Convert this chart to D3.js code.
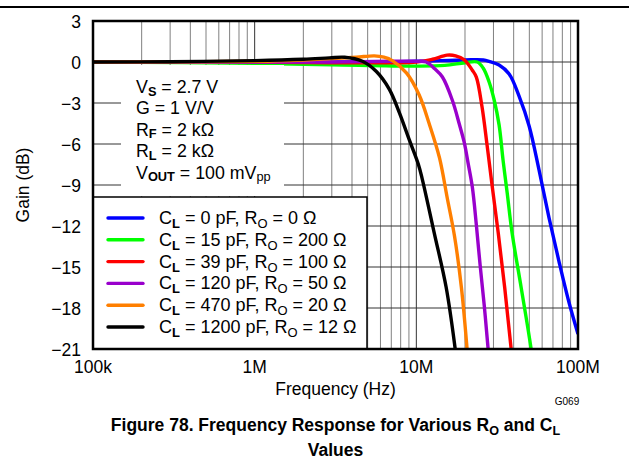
<!DOCTYPE html>
<html>
<head>
<meta charset="utf-8">
<script src="https://cdn.jsdelivr.net/npm/d3@7"></script>
<style>
  body { margin: 0; background: #fff; }
  svg { display: block; font-family: "Liberation Sans", Arial, sans-serif; }
</style>
</head>
<body>
<div id="chart"></div>
<script>
// frequency (Hz) / gain (dB)
const blueF   = [1e5, 1e6, 5e6, 1e7, 2e7, 2.6e7, 2.82e7, 3.25e7, 3.75e7, 4.32e7, 4.99e7, 5.74e7, 6.62e7, 7.63e7, 8.8e7, 1e8];
const blueG   = [0, 0, 0, 0.05, 0.15, 0.15, 0.05, -0.22, -0.88, -2.5, -4.7, -7.9, -11.4, -14.6, -17.6, -19.9];
const greenF  = [1e5, 1e6, 3e6, 1e7, 1.5e7, 2.0e7, 2.38e7, 2.59e7, 2.82e7, 3.03e7, 3.25e7, 3.44e7, 3.65e7, 3.91e7, 4.45e7, 5.13e7, 6e7];
const greenG  = [0, -0.1, -0.2, -0.3, -0.25, -0.05, 0, -0.44, -1.46, -2.78, -4.6, -7.2, -9.6, -12.5, -16.5, -21, -27];
const redF    = [1e5, 1e6, 3e6, 1e7, 1.26e7, 1.55e7, 1.75e7, 1.98e7, 2.22e7, 2.35e7, 2.55e7, 2.74e7, 2.94e7, 3.21e7, 3.52e7, 3.86e7, 4.3e7];
const redG    = [0, 0, -0.05, 0, 0.2, 0.5, 0.45, 0.15, -0.6, -1.1, -3.3, -6.1, -9.0, -12.5, -16.5, -21, -26];
const purpleF = [1e5, 1e6, 3e6, 7e6, 1.0e7, 1.15e7, 1.3e7, 1.45e7, 1.67e7, 1.84e7, 1.98e7, 2.09e7, 2.22e7, 2.35e7, 2.48e7, 2.63e7, 2.78e7, 3.1e7];
const purpleG = [0, 0, 0, 0.05, 0.05, 0, -0.5, -1.1, -2.8, -4.5, -5.9, -7.4, -9.15, -11.9, -14.85, -17.8, -21, -27];
const orangeF = [1e5, 1e6, 2e6, 3e6, 4.26e6, 5.5e6, 6.3e6, 7.1e6, 8.68e6, 1.04e7, 1.2e7, 1.39e7, 1.55e7, 1.72e7, 1.9e7, 2.06e7, 2.25e7];
const orangeG = [0, 0.05, 0.15, 0.25, 0.35, 0.45, 0.35, 0.1, -0.8, -2.4, -4.5, -7.0, -9.9, -12.7, -16.5, -21, -27];
const blackF  = [1e5, 3e5, 1e6, 2e6, 2.9e6, 3.6e6, 4.64e6, 5.66e6, 6.81e6, 7.85e6, 9.05e6, 1.03e7, 1.09e7, 1.29e7, 1.53e7, 1.74e7, 1.95e7];
const blackG  = [0, 0.02, 0.1, 0.2, 0.3, 0.35, 0.05, -0.7, -2.0, -3.7, -5.7, -7.5, -8.6, -12.5, -16.5, -21, -26];

const seriesCL = ['0', '15', '39', '120', '470', '1200'];
const seriesRO = ['0', '200', '100', '50', '20', '12'];
const seriesColors = ['#0000ff', '#00ff00', '#ff0000', '#9900cc', '#ff7f00', '#000000'];
const seriesData = [[blueF, blueG], [greenF, greenG], [redF, redG], [purpleF, purpleG], [orangeF, orangeG], [blackF, blackG]];

const yTicks = [3, 0, -3, -6, -9, -12, -15, -18, -21];
const xTicks = [1e5, 1e6, 1e7, 1e8];
const xTickLabels = ['100k', '1M', '10M', '100M'];

const width = 629, height = 474;
const margin = { top: 21, left: 93, right: 51, bottom: 125 };
const W = width - margin.left - margin.right;
const H = height - margin.top - margin.bottom;

const x = d3.scaleLog().domain([1e5, 1e8]).range([0, W]);
const y = d3.scaleLinear().domain([-21, 3]).range([H, 0]);

const svg = d3.select('#chart').append('svg')
  .attr('width', width).attr('height', height);
svg.append('rect').attr('width', width).attr('height', height).attr('fill', '#fff');

// rule at top of page
svg.append('line').attr('x1', 0).attr('x2', width).attr('y1', 7).attr('y2', 7)
  .attr('stroke', '#000').attr('stroke-width', 2);

const g = svg.append('g').attr('transform', `translate(${margin.left},${margin.top})`);

// grid
const minor = [];
for (let dec = 1e5; dec < 1e8; dec *= 10) for (let k = 2; k <= 9; k++) minor.push(dec * k);
g.selectAll('.vminor').data(minor).join('line')
  .attr('x1', d => x(d)).attr('x2', d => x(d)).attr('y1', 0).attr('y2', H)
  .attr('stroke', '#808080').attr('stroke-width', 1);
g.selectAll('.vmajor').data(xTicks).join('line')
  .attr('x1', d => x(d)).attr('x2', d => x(d)).attr('y1', 0).attr('y2', H)
  .attr('stroke', '#333').attr('stroke-width', 1);
g.selectAll('.hgrid').data(yTicks).join('line')
  .attr('x1', 0).attr('x2', W).attr('y1', d => y(d)).attr('y2', d => y(d))
  .attr('stroke', '#333').attr('stroke-width', 1);

// curves
g.append('clipPath').attr('id', 'clip').append('rect').attr('width', W).attr('height', H);
const line = d3.line().x(d => x(d[0])).y(d => y(d[1])).curve(d3.curveCatmullRom.alpha(0.5));
seriesData.forEach((s, i) => {
  const pts = s[0].map((f, j) => [f, s[1][j]]);
  g.append('path').datum(pts).attr('clip-path', 'url(#clip)')
    .attr('fill', 'none').attr('stroke', seriesColors[i]).attr('stroke-width', 3.4)
    .attr('stroke-linejoin', 'round').attr('d', line);
});

// rich text helper: segments of {t, sub, bold}
function rich(sel, segs, size, drop = 0.22) {
  let shifted = false;
  segs.forEach(s => {
    const ts = sel.append('tspan').text(s.t);
    if (s.sub && !shifted) { ts.attr('dy', size * drop); shifted = true; }
    else if (!s.sub && shifted) { ts.attr('dy', -size * drop); shifted = false; }
    if (s.sub) ts.attr('font-size', size * 0.72);
    if (s.bold) ts.attr('font-weight', 'bold');
  });
}

// conditions box
const cond = [
  [{ t: 'V' }, { t: 'S', sub: true, bold: true }, { t: ' = 2.7 V' }],
  [{ t: 'G = 1 V/V' }],
  [{ t: 'R' }, { t: 'F', sub: true, bold: true }, { t: ' = 2 k\u03A9' }],
  [{ t: 'R' }, { t: 'L', sub: true, bold: true }, { t: ' = 2 k\u03A9' }],
  [{ t: 'V' }, { t: 'OUT', sub: true, bold: true }, { t: ' = 100 mV' }, { t: 'pp', sub: true }]
];
g.append('rect').attr('x', 28).attr('y', 44).attr('width', 163).attr('height', 131).attr('fill', '#fff');
cond.forEach((segs, i) => {
  const t = g.append('text').attr('x', 43).attr('y', 72 + i * 21.4)
    .attr('font-size', 17.8).attr('fill', '#000');
  rich(t, segs, 17.8, 0.15);
});

// legend
const leg = g.append('g');
leg.append('rect').attr('x', 0).attr('y', 176).attr('width', 274).attr('height', H - 176)
  .attr('fill', '#fff').attr('stroke', '#000').attr('stroke-width', 1.5);
seriesCL.forEach((cl, i) => {
  const ly = 197 + i * 21.8;
  leg.append('line').attr('x1', 15).attr('x2', 50).attr('y1', ly).attr('y2', ly)
    .attr('stroke', seriesColors[i]).attr('stroke-width', 3.4).attr('stroke-linecap', 'round');
  const t = leg.append('text').attr('x', 66).attr('y', ly + 6).attr('font-size', 18);
  rich(t, [{ t: 'C' }, { t: 'L', sub: true, bold: true }, { t: ` = ${cl} pF, R` },
    { t: 'O', sub: true }, { t: ` = ${seriesRO[i]} \u03A9` }], 18);
});

// frame
g.append('rect').attr('width', W).attr('height', H).attr('fill', 'none')
  .attr('stroke', '#000').attr('stroke-width', 2.5);

// tick labels
g.selectAll('.ylab').data(yTicks).join('text')
  .attr('x', -12).attr('y', d => y(d) + 7).attr('text-anchor', 'end')
  .attr('font-size', 17.5).text(d => d < 0 ? '\u2212' + Math.abs(d) : d);
g.selectAll('.xlab').data(xTicks).join('text')
  .attr('x', d => x(d)).attr('y', H + 24).attr('text-anchor', 'middle')
  .attr('font-size', 17.5).text((d, i) => xTickLabels[i]);

// axis titles
g.append('text').attr('transform', `translate(-64,${H / 2}) rotate(-90)`)
  .attr('text-anchor', 'middle').attr('font-size', 17.5).text('Gain (dB)');
g.append('text').attr('x', W / 2).attr('y', H + 46).attr('text-anchor', 'middle')
  .attr('font-size', 17.5).text('Frequency (Hz)');
g.append('text').attr('x', W - 11).attr('y', H + 56).attr('text-anchor', 'middle')
  .attr('font-size', 10).text('G069');

// caption
const cap = svg.append('text').attr('x', margin.left + W / 2).attr('y', 431)
  .attr('text-anchor', 'middle').attr('font-size', 17.5).attr('font-weight', 'bold');
rich(cap, [{ t: 'Figure 78. Frequency Response for Various R' }, { t: 'O', sub: true },
  { t: ' and C' }, { t: 'L', sub: true }], 17.5);
svg.append('text').attr('x', margin.left + W / 2).attr('y', 456)
  .attr('text-anchor', 'middle').attr('font-size', 17.5).attr('font-weight', 'bold').text('Values');
</script>
</body>
</html>
